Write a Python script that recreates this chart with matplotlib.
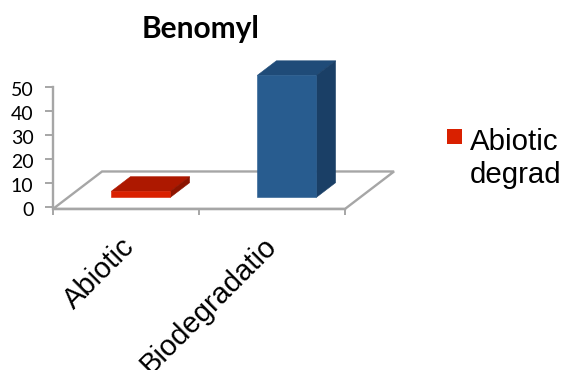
"""
Oblique 3D-style column chart of benomyl degradation, drawn with Matplotlib
polygons on a regular value axis.
"""

from matplotlib import pyplot as plt
from matplotlib.patches import Polygon, Rectangle
from matplotlib.transforms import ScaledTranslation

# Chart values
categories = ["Abiotic", "Biodegradatio"]
values = [2.5, 50.8]
value_ticks = [0, 10, 20, 30, 40, 50]
bar_faces = [
    ("#d92000", "#ad1800", "#8c1400"),
    ("#285c8f", "#1f4b78", "#1a3f66"),
]
chart_title = "Benomyl"
legend_lines = ["Abiotic", "degrad"]

FIG_W, FIG_H = 563, 370
DEPTH_X = 0.336  # category units added per full floor depth
DEPTH_Y = 15.6  # value units added per full floor depth
FLOOR_Y = -0.8  # floor sits slightly below the zero tick
AXIS_GREY = "#a6a6a6"
LABEL_OFFSETS = [(-3.9, -18), (-6.8, -18)]  # points, one per category


def project(x, y, depth):
    """Shift a point on the value plane back by its depth."""
    return x + depth * DEPTH_X, y + depth * DEPTH_Y


def draw_bar(ax, position, value, colors):
    """Draw one column as front, top and side polygons."""
    front_color, top_color, side_color = colors
    left, right = position + 0.295, position + 0.7
    near, far = 0.31, 0.70
    base = FLOOR_Y

    def quad(points, color):
        corners = [project(*p) for p in points]
        ax.add_patch(Polygon(corners, closed=True, facecolor=color,
                             edgecolor=color, linewidth=0.4,
                             clip_on=False, zorder=3))

    top = base + value
    quad([(left, top, near), (left, top, far),
          (right, top, far), (right, top, near)], top_color)
    quad([(right, base, near), (right, base, far),
          (right, top, far), (right, top, near)], side_color)
    quad([(left, base, near), (right, base, near),
          (right, top, near), (left, top, near)], front_color)


fig = plt.figure(figsize=(FIG_W / 100, FIG_H / 100), dpi=100)
# Axes box runs from the zero tick to the 50 tick
ax = fig.add_axes([53 / FIG_W, 1 - 207 / FIG_H, 292 / FIG_W, 120 / FIG_H])
ax.set_xlim(0, len(categories))
ax.set_ylim(value_ticks[0], value_ticks[-1])
ax.patch.set_visible(False)

# Floor of the chart
floor = [project(0, FLOOR_Y, 0), project(0, FLOOR_Y, 1),
         project(2, FLOOR_Y, 1), project(2, FLOOR_Y, 0)]
ax.add_patch(Polygon(floor, closed=True, facecolor="white",
                     edgecolor=AXIS_GREY, linewidth=1.7,
                     clip_on=False, zorder=1))

for i, value in enumerate(values):
    draw_bar(ax, i, value, bar_faces[i])

# Axis lines and ticks
for side in ("top", "right"):
    ax.spines[side].set_visible(False)
ax.spines["left"].set_color(AXIS_GREY)
ax.spines["left"].set_linewidth(1.7)
ax.spines["bottom"].set_color(AXIS_GREY)
ax.spines["bottom"].set_linewidth(1.7)
ax.spines["bottom"].set_position(("outward", 1.4))

ax.set_yticks(value_ticks)
ax.tick_params(axis="y", length=5.5, width=1.4, color=AXIS_GREY, pad=8.5,
               labelsize=14, labelcolor="black")
# Tick labels sit a little below their ticks
label_shift = ScaledTranslation(0, -2 / 100, fig.dpi_scale_trans)
for label in ax.get_yticklabels():
    label.set_fontfamily("Lato")
    label.set_transform(label.get_transform() + label_shift)

ax.set_xticks(range(len(categories) + 1))
ax.set_xticklabels([""] * (len(categories) + 1))
ax.tick_params(axis="x", length=4, width=1.4, color=AXIS_GREY)

# Category labels are centred on their slots and run off the figure edge
for i, category in enumerate(categories):
    ax.annotate(category, xy=(i + 0.5, 0), xycoords=("data", "axes fraction"),
                xytext=LABEL_OFFSETS[i], textcoords="offset points",
                ha="right", va="top", rotation=45, rotation_mode="anchor",
                fontsize=21, fontfamily="Liberation Sans", color="black",
                annotation_clip=False)

fig.text(201 / FIG_W, 1 - 29 / FIG_H, chart_title, ha="center", va="center",
         fontsize=21.5, fontweight="bold", fontfamily="Lato", color="black")

# Legend swatch and text; the text is cut by the figure edge
fig.add_artist(Rectangle((447 / FIG_W, 1 - 144 / FIG_H), 15 / FIG_W, 15 / FIG_H,
                         transform=fig.transFigure,
                         facecolor=bar_faces[0][0], edgecolor="none"))
for line, baseline in zip(legend_lines, (150, 183)):
    fig.text(470 / FIG_W, 1 - baseline / FIG_H, line, ha="left", va="baseline",
             fontsize=21.2, fontfamily="Liberation Sans", color="black")

fig.savefig("out.png", dpi=100)
